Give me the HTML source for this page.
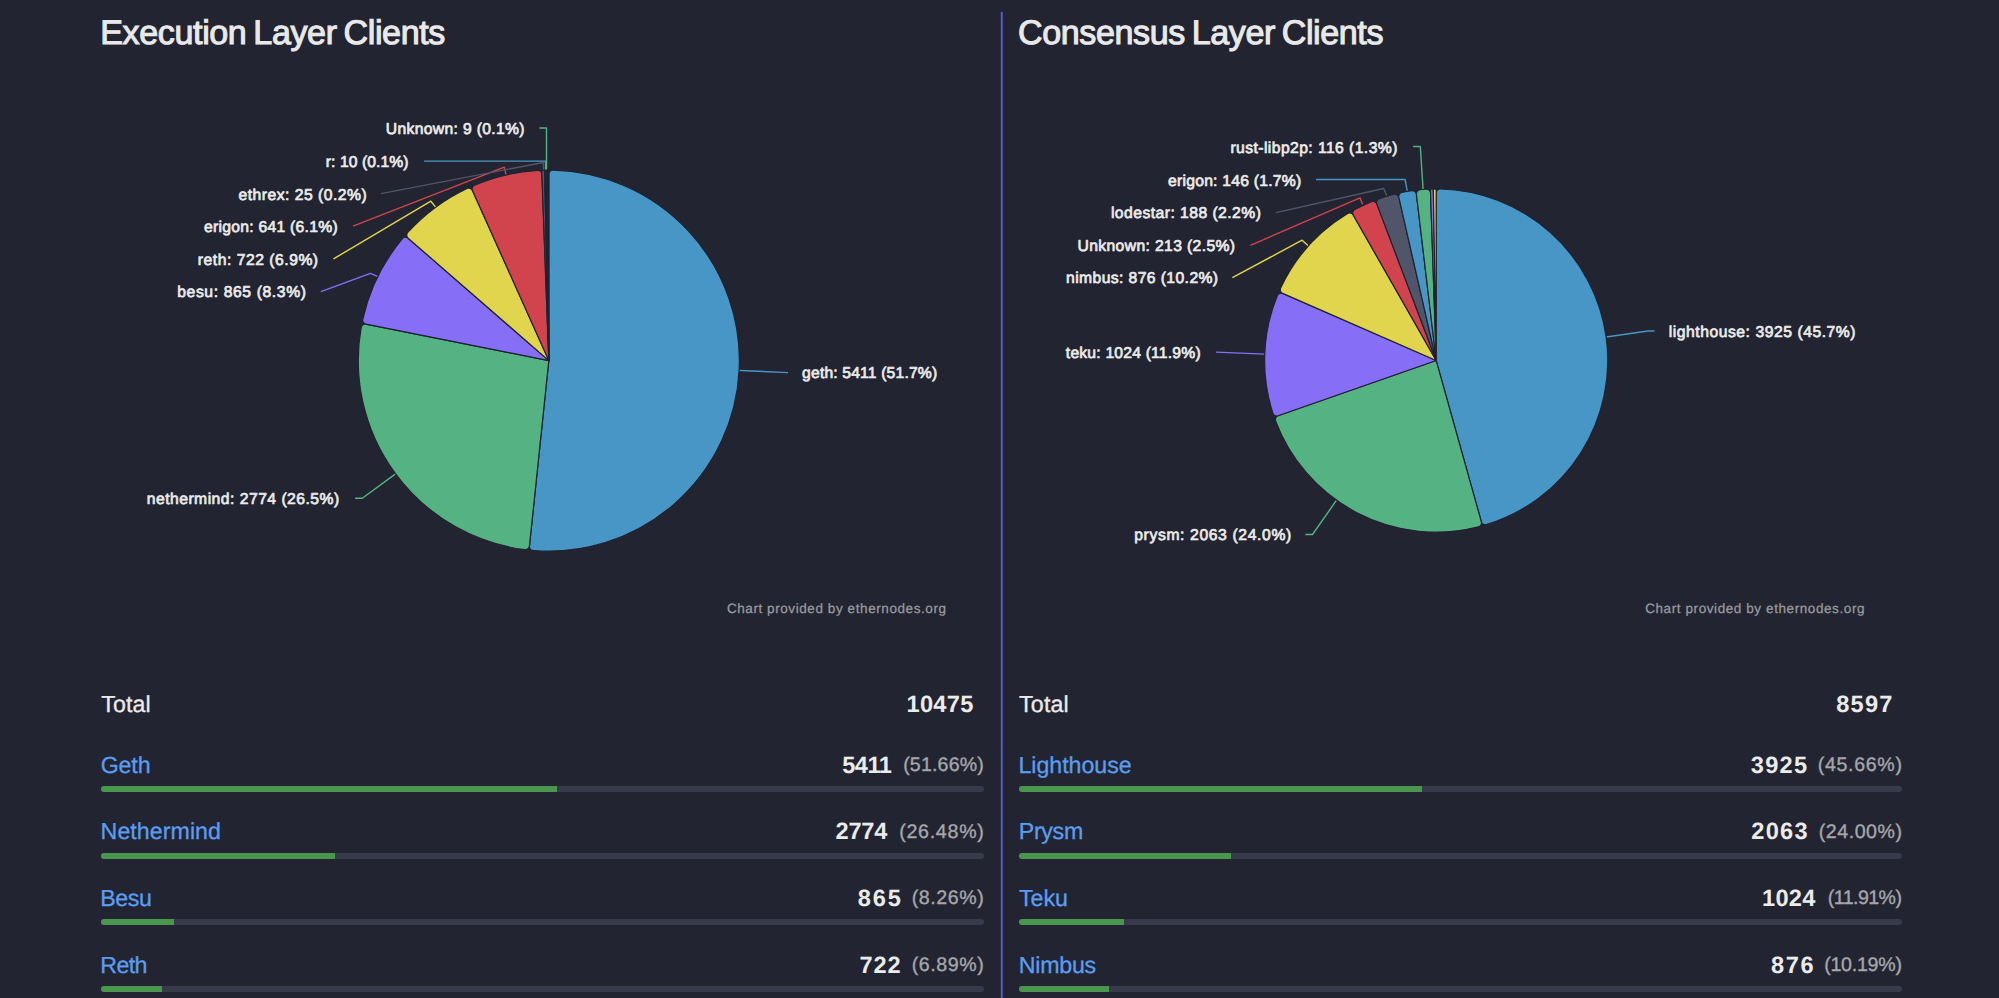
<!DOCTYPE html>
<html lang="en">
<head>
<meta charset="utf-8">
<title>Ethereum Client Diversity</title>
<style>
html,body{margin:0;padding:0}
body{width:1999px;height:998px;overflow:hidden;background:#222531;color:#ebebeb;font-family:"Liberation Sans", sans-serif;position:relative;text-rendering:geometricPrecision}
.charts{position:absolute;left:0;top:0}
.panel{position:absolute;top:0;width:883.4px;height:998px}
.panel *{white-space:nowrap}
h2{position:absolute;top:13.0px;margin:0;font-size:34.1px;line-height:40px;font-weight:400;color:#e9e9e9;word-spacing:-2.2px;-webkit-text-stroke:1.05px #e9e9e9}
.credit{position:absolute;top:600.9px;font-size:13.5px;line-height:16px;color:#9b9b9e;-webkit-text-stroke:0.25px currentColor}
.row{position:absolute;left:0;width:883.4px;height:60px}
.row>*{position:absolute;top:0;line-height:26px}
.row .name{top:-0.4px;font-size:23.2px;color:#5b9df0;text-decoration:none;-webkit-text-stroke:0.3px currentColor}
.row.total .name{color:#ebebeb}
.row .num{top:0.7px;font-size:23.6px;font-weight:700;color:#ebebeb}
.row .pct{top:0;font-style:normal;font-size:19.6px;color:#a6a6ab;-webkit-text-stroke:0.35px currentColor}
.row.total{top:691.0px}
.row .bar{left:0;top:34.1px;width:883.4px;height:6px;border-radius:3px;background:#363a4a;overflow:hidden}
.fill{height:6px;background:#4b964e}
.row.r0{top:752.00px}
.row.r1{top:818.67px}
.row.r2{top:885.34px}
.row.r3{top:952.01px}
</style>
</head>
<body>
<svg class="charts" width="1999" height="998" viewBox="0 0 1999 998"><g class="pie pie-execution"><g fill="none" stroke-width="1.4" stroke-linejoin="round"><polyline points="738.3,370.4 746.2,370.8 788.0,372.6" stroke="#4896c5"/><polyline points="396.2,473.4 362.3,498.3 355.1,498.3" stroke="#55b283"/><polyline points="377.6,276.4 370.4,273.3 320.9,291.6" stroke="#866ef7"/><polyline points="436.0,207.6 430.9,201.2 333.5,258.9" stroke="#e1d54d"/><polyline points="506.1,175.1 504.3,167.1 353.0,226.2" stroke="#d2444d"/><polyline points="543.6,171.0 543.3,162.5 381.0,193.6" stroke="#50556a"/><polyline points="545.5,170.6 545.5,161.1 424.1,161.1" stroke="#4896c5"/><polyline points="546.5,170.6 546.5,128.0 539.4,128.0" stroke="#55b283"/></g><g stroke="#1f2230" stroke-width="1.2" stroke-linejoin="round"><path d="M548.80 360.60L548.80 174.01A3.92 3.92 0 0 1 552.80 170.09A190.55 190.55 0 1 1 532.99 550.49A3.92 3.92 0 0 1 529.42 546.18Z" fill="#4896c5"/><path d="M548.80 360.60L529.43 546.10A4.00 4.00 0 0 1 524.95 549.65A190.55 190.55 0 0 1 361.19 327.28A4.00 4.00 0 0 1 365.91 324.06Z" fill="#55b283"/><path d="M548.80 360.60L365.91 324.06A4.00 4.00 0 0 1 362.79 319.27A190.55 190.55 0 0 1 402.40 238.63A4.00 4.00 0 0 1 408.10 238.18Z" fill="#866ef7"/><path d="M548.80 360.60L408.10 238.18A4.00 4.00 0 0 1 407.76 232.47A190.55 190.55 0 0 1 467.10 188.45A4.00 4.00 0 0 1 472.46 190.43Z" fill="#e1d54d"/><path d="M548.80 360.60L472.46 190.43A4.00 4.00 0 0 1 474.56 185.11A190.55 190.55 0 0 1 537.63 170.38A4.00 4.00 0 0 1 541.87 174.22Z" fill="#d2444d"/><path d="M548.80 360.60L541.77 171.58A1.39 1.39 0 0 1 543.11 170.13A190.55 190.55 0 0 1 543.17 170.13A1.39 1.39 0 0 1 544.60 171.49Z" fill="#50556a"/><path d="M548.80 360.60L544.58 170.66A0.56 0.56 0 0 1 545.13 170.09A190.55 190.55 0 0 1 545.15 170.08A0.56 0.56 0 0 1 545.72 170.63Z" fill="#4896c5"/><path d="M548.80 360.60L545.72 170.58A0.50 0.50 0 0 1 546.22 170.07A190.55 190.55 0 0 1 546.24 170.07A0.50 0.50 0 0 1 546.75 170.56Z" fill="#55b283"/><path d="M548.80 360.60L546.75 170.45A0.39 0.39 0 0 1 547.13 170.06A190.55 190.55 0 0 1 547.15 170.06A0.39 0.39 0 0 1 547.55 170.45Z" fill="#866ef7"/><path d="M548.80 360.60L547.54 170.39A0.34 0.34 0 0 1 547.88 170.05A190.55 190.55 0 0 1 547.89 170.05A0.34 0.34 0 0 1 548.23 170.39Z" fill="#e1d54d"/><path d="M548.80 360.60L548.23 170.33A0.28 0.28 0 0 1 548.51 170.05A190.55 190.55 0 0 1 548.52 170.05A0.28 0.28 0 0 1 548.80 170.33Z" fill="#d2444d"/></g><g fill="#ebebeb" font-size="15.7" font-family='"Liberation Sans", sans-serif' stroke="#ebebeb" stroke-width="0.7" stroke-linejoin="round" text-rendering="geometricPrecision"><text id="la0" x="802.11" y="377.6" letter-spacing="0.161">geth: 5411 (51.7%)</text><text id="la1" x="146.73" y="504.1" letter-spacing="0.483">nethermind: 2774 (26.5%)</text><text id="la2" x="177.19" y="297.1" letter-spacing="0.622">besu: 865 (8.3%)</text><text id="la3" x="197.78" y="265.1" letter-spacing="0.523">reth: 722 (6.9%)</text><text id="la4" x="203.93" y="231.9" letter-spacing="0.274">erigon: 641 (6.1%)</text><text id="la5" x="238.56" y="199.7" letter-spacing="0.489">ethrex: 25 (0.2%)</text><text id="la6" x="325.75" y="166.6" letter-spacing="0.080">r: 10 (0.1%)</text><text id="la7" x="385.87" y="134.4" letter-spacing="0.333">Unknown: 9 (0.1%)</text></g></g><g class="pie pie-consensus"><g fill="none" stroke-width="1.4" stroke-linejoin="round"><polyline points="1606.2,337.0 1647.8,331.0 1654.5,331.0" stroke="#4896c5"/><polyline points="1336.9,499.7 1312.5,534.5 1305.3,534.5" stroke="#55b283"/><polyline points="1264.8,354.1 1216.0,352.1" stroke="#866ef7"/><polyline points="1308.5,245.9 1302.1,240.2 1232.4,277.7" stroke="#e1d54d"/><polyline points="1362.6,204.2 1360.0,197.8 1250.4,245.3" stroke="#d2444d"/><polyline points="1386.7,195.8 1383.7,188.5 1275.9,212.6" stroke="#50556a"/><polyline points="1407.3,191.1 1405.1,179.5 1316.1,179.5" stroke="#4896c5"/><polyline points="1423.1,189.7 1420.3,146.5 1413.1,146.5" stroke="#55b283"/></g><g stroke="#1f2230" stroke-width="1.2" stroke-linejoin="round"><path d="M1436.20 360.55L1436.20 193.00A4.00 4.00 0 0 1 1440.30 189.00A171.6 171.6 0 0 1 1486.39 524.64A4.00 4.00 0 0 1 1481.37 521.90Z" fill="#4896c5"/><path d="M1436.20 360.55L1481.37 521.90A4.00 4.00 0 0 1 1478.51 526.85A171.6 171.6 0 0 1 1275.59 420.98A4.00 4.00 0 0 1 1278.02 415.80Z" fill="#55b283"/><path d="M1436.20 360.55L1278.02 415.80A4.00 4.00 0 0 1 1272.89 413.25A171.6 171.6 0 0 1 1277.39 295.54A4.00 4.00 0 0 1 1282.69 293.40Z" fill="#866ef7"/><path d="M1436.20 360.55L1282.69 293.40A4.00 4.00 0 0 1 1280.67 288.04A171.6 171.6 0 0 1 1347.67 213.55A4.00 4.00 0 0 1 1353.21 214.99Z" fill="#e1d54d"/><path d="M1436.20 360.55L1353.21 214.99A4.00 4.00 0 0 1 1354.79 209.49A171.6 171.6 0 0 1 1371.54 201.60A4.00 4.00 0 0 1 1376.78 203.89Z" fill="#d2444d"/><path d="M1436.20 360.55L1376.78 203.89A4.00 4.00 0 0 1 1379.19 198.70A171.6 171.6 0 0 1 1393.92 194.24A4.00 4.00 0 0 1 1398.80 197.22Z" fill="#50556a"/><path d="M1436.20 360.55L1398.80 197.22A4.00 4.00 0 0 1 1401.90 192.41A171.6 171.6 0 0 1 1411.87 190.68A4.00 4.00 0 0 1 1416.41 194.17Z" fill="#4896c5"/><path d="M1436.20 360.55L1416.41 194.17A4.00 4.00 0 0 1 1420.00 189.72A171.6 171.6 0 0 1 1426.34 189.23A4.00 4.00 0 0 1 1430.57 193.09Z" fill="#55b283"/><path d="M1436.20 360.55L1430.48 190.45A1.40 1.40 0 0 1 1431.84 189.01A171.6 171.6 0 0 1 1431.90 189.00A1.40 1.40 0 0 1 1433.34 190.38Z" fill="#866ef7"/><path d="M1436.20 360.55L1433.34 190.38A1.40 1.40 0 0 1 1434.73 188.96A171.6 171.6 0 0 1 1434.79 188.96A1.40 1.40 0 0 1 1436.20 190.36Z" fill="#e1d54d"/></g><g fill="#ebebeb" font-size="15.7" font-family='"Liberation Sans", sans-serif' stroke="#ebebeb" stroke-width="0.7" stroke-linejoin="round" text-rendering="geometricPrecision"><text id="lb0" x="1668.70" y="337.2" letter-spacing="0.541">lighthouse: 3925 (45.7%)</text><text id="lb1" x="1134.22" y="540.2" letter-spacing="0.631">prysm: 2063 (24.0%)</text><text id="lb2" x="1065.84" y="358.4" letter-spacing="0.201">teku: 1024 (11.9%)</text><text id="lb3" x="1066.09" y="283.2" letter-spacing="0.403">nimbus: 876 (10.2%)</text><text id="lb4" x="1077.48" y="251.1" letter-spacing="0.374">Unknown: 213 (2.5%)</text><text id="lb5" x="1110.90" y="217.9" letter-spacing="0.462">lodestar: 188 (2.2%)</text><text id="lb6" x="1168.04" y="185.7" letter-spacing="0.243">erigon: 146 (1.7%)</text><text id="lb7" x="1230.40" y="152.7" letter-spacing="0.430">rust-libp2p: 116 (1.3%)</text></g></g><line class="divider" x1="1001.75" y1="12" x2="1001.75" y2="998" stroke="#5b5bd4" stroke-width="1.9"/></svg>
<section class="panel" style="left:100.7px">
<h2 id="t0" class="title" style="left:-0.41px;letter-spacing:-0.389px">Execution Layer Clients</h2>
<div id="c0" class="credit" style="left:626.20px;letter-spacing:0.580px">Chart provided by ethernodes.org</div>
<div class="row total"><span id="tn0" class="name" style="left:0.50px;letter-spacing:0.115px">Total</span><b id="tv0" class="num" style="left:805.77px;letter-spacing:0.307px">10475</b></div>
<div class="row r0"><a id="n0_0" class="name" style="left:-0.02px;letter-spacing:-0.117px">Geth</a><b id="v0_0" class="num" style="left:741.52px;letter-spacing:-0.494px">5411</b><i id="p0_0" class="pct" style="left:802.46px;letter-spacing:0.174px">(51.66%)</i><div class="bar"><div class="fill" style="width:51.66%"></div></div></div>
<div class="row r1"><a id="n0_1" class="name" style="left:-0.08px;letter-spacing:0.054px">Nethermind</a><b id="v0_1" class="num" style="left:734.78px;letter-spacing:-0.167px">2774</b><i id="p0_1" class="pct" style="left:798.46px;letter-spacing:0.740px">(26.48%)</i><div class="bar"><div class="fill" style="width:26.48%"></div></div></div>
<div class="row r2"><a id="n0_2" class="name" style="left:-0.33px;letter-spacing:-0.457px">Besu</a><b id="v0_2" class="num" style="left:757.04px;letter-spacing:1.908px">865</b><i id="p0_2" class="pct" style="left:810.97px;letter-spacing:0.581px">(8.26%)</i><div class="bar"><div class="fill" style="width:8.26%"></div></div></div>
<div class="row r3"><a id="n0_3" class="name" style="left:-0.33px;letter-spacing:-0.627px">Reth</a><b id="v0_3" class="num" style="left:758.92px;letter-spacing:0.801px">722</b><i id="p0_3" class="pct" style="left:810.97px;letter-spacing:0.581px">(6.89%)</i><div class="bar"><div class="fill" style="width:6.89%"></div></div></div>
</section>
<section class="panel" style="left:1019.0px">
<h2 id="t1" class="title" style="left:-0.95px;letter-spacing:-0.412px">Consensus Layer Clients</h2>
<div id="c1" class="credit" style="left:626.19px;letter-spacing:0.586px">Chart provided by ethernodes.org</div>
<div class="row total"><span id="tn1" class="name" style="left:0.11px;letter-spacing:0.146px">Total</span><b id="tv1" class="num" style="left:817.13px;letter-spacing:1.265px">8597</b></div>
<div class="row r0"><a id="n1_0" class="name" style="left:-0.53px;letter-spacing:-0.038px">Lighthouse</a><b id="v1_0" class="num" style="left:731.70px;letter-spacing:1.331px">3925</b><i id="p1_0" class="pct" style="left:798.83px;letter-spacing:0.656px">(45.66%)</i><div class="bar"><div class="fill" style="width:45.66%"></div></div></div>
<div class="row r1"><a id="n1_1" class="name" style="left:-0.23px;letter-spacing:-0.317px">Prysm</a><b id="v1_1" class="num" style="left:732.23px;letter-spacing:1.290px">2063</b><i id="p1_1" class="pct" style="left:799.83px;letter-spacing:0.517px">(24.00%)</i><div class="bar"><div class="fill" style="width:24.0%"></div></div></div>
<div class="row r2"><a id="n1_2" class="name" style="left:0.09px;letter-spacing:-0.062px">Teku</a><b id="v1_2" class="num" style="left:743.03px;letter-spacing:0.251px">1024</b><i id="p1_2" class="pct" style="left:808.81px;letter-spacing:-0.555px">(11.91%)</i><div class="bar"><div class="fill" style="width:11.91%"></div></div></div>
<div class="row r3"><a id="n1_3" class="name" style="left:-0.23px;letter-spacing:-0.236px">Nimbus</a><b id="v1_3" class="num" style="left:752.00px;letter-spacing:1.583px">876</b><i id="p1_3" class="pct" style="left:805.16px;letter-spacing:-0.248px">(10.19%)</i><div class="bar"><div class="fill" style="width:10.19%"></div></div></div>
</section>
</body>
</html>
